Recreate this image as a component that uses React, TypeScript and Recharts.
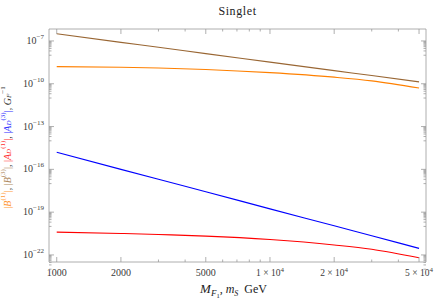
import React from "react";
import { LineChart, Line, XAxis, YAxis } from "recharts";

// ---- data ----
const masses = [1000, 2000, 3000, 5000, 10000, 20000, 30000, 50000];
const b3Values = [3.2e-7, 8e-8, 3.6e-8, 1.3e-8, 3.3e-9, 8.3e-10, 3.8e-10, 1.35e-10]; // brown
const b1Values = [1.6e-9, 1.45e-9, 1.26e-9, 1.0e-9, 6e-10, 2.9e-10, 1.6e-10, 5e-11]; // orange
const ad3Values = [1.6e-15, 1.0e-16, 2.0e-17, 2.7e-18, 1.7e-19, 1.1e-20, 2.2e-21, 2.9e-22]; // blue
const ad1Values = [4e-21, 3.2e-21, 2.7e-21, 2.1e-21, 1.2e-21, 5e-22, 2.5e-22, 6.3e-23]; // red

const xMajorTicks = [1000, 2000, 5000, 10000, 20000, 50000];
const xMajorLabels = ["1000", "2000", "5000", "1 × 10|4", "2 × 10|4", "5 × 10|4"];
const xMinorTicks = [3000, 4000, 6000, 7000, 8000, 9000, 30000, 40000];
const yMajorExponents = [-22, -19, -16, -13, -10, -7];

const data = masses.map((m, i) => ({
  m,
  b3: b3Values[i],
  b1: b1Values[i],
  ad3: ad3Values[i],
  ad1: ad1Values[i],
}));

const yMajorTicks = yMajorExponents.map((n) => Number(`1e${n}`));
const yMinorTicks: number[] = [];
yMajorExponents.forEach((n) => {
  for (let k = 1; k <= 9; k++) yMinorTicks.push(Number(`${k}e${n - 1}`));
});
const yTicks = [...yMajorTicks, ...yMinorTicks].sort((a, b) => a - b);
const xTicks = [...xMajorTicks, ...xMinorTicks].sort((a, b) => a - b);

const FRAME = "#9a9a9a";
const TEXT = "#3a3a3a";
const FONT = "Liberation Serif";

const isMajorX = (v: number) => xMajorTicks.includes(v);
const isMajorY = (v: number) => yMajorTicks.some((t) => Math.abs(t - v) / t < 1e-9);

const BottomTick = (props: any) => {
  const { x, y, payload } = props;
  const v = payload.value;
  const major = isMajorX(v);
  const idx = xMajorTicks.indexOf(v);
  let label: React.ReactNode = null;
  if (major) {
    const s = xMajorLabels[idx];
    if (s.includes("|")) {
      const [base, sup] = s.split("|");
      label = (
        <text x={x} y={y + 14} textAnchor="middle" fontSize={9.5} fill={TEXT} style={{ fontFamily: FONT }}>
          {base}
          <tspan fontSize={7} dy={-4}>{sup}</tspan>
        </text>
      );
    } else {
      label = (
        <text x={x} y={y + 14} textAnchor="middle" fontSize={10} fill={TEXT} style={{ fontFamily: FONT }}>
          {s}
        </text>
      );
    }
  }
  return (
    <g>
      <line x1={x} y1={y} x2={x} y2={y - (major ? 5 : 2.5)} stroke={FRAME} strokeWidth={0.8} />
      {label}
    </g>
  );
};

const TopTick = (props: any) => {
  const { x, y, payload } = props;
  const major = isMajorX(payload.value);
  return <line x1={x} y1={y} x2={x} y2={y + (major ? 5 : 2.5)} stroke={FRAME} strokeWidth={0.8} />;
};

const LeftTick = (props: any) => {
  const { x, y, payload } = props;
  const v = payload.value;
  const major = isMajorY(v);
  const exp = Math.round(Math.log10(v));
  return (
    <g>
      <line x1={x} y1={y} x2={x + (major ? 5 : 2.5)} y2={y} stroke={FRAME} strokeWidth={0.8} />
      {major && (
        <text x={x - 5} y={y + 3} textAnchor="end" fontSize={10} fill={TEXT} style={{ fontFamily: FONT }}>
          10
          <tspan fontSize={7} dy={-5}>{`\u2212${Math.abs(exp)}`}</tspan>
        </text>
      )}
    </g>
  );
};

const RightTick = (props: any) => {
  const { x, y, payload } = props;
  const major = isMajorY(payload.value);
  return <line x1={x} y1={y} x2={x - (major ? 5 : 2.5)} y2={y} stroke={FRAME} strokeWidth={0.8} />;
};

const TitleLabel = (props: any) => {
  const vb = props.viewBox || {};
  return (
    <text x={vb.x + vb.width / 2} y={15} textAnchor="middle" fontSize={12} letterSpacing={0.6} fill="#222" style={{ fontFamily: FONT }}>
      Singlet
    </text>
  );
};

const XTitle = (props: any) => {
  const vb = props.viewBox || {};
  const cx = vb.x + vb.width / 2 - 4;
  return (
    <text x={cx} y={293} textAnchor="middle" fill="#222" style={{ fontFamily: FONT }} fontSize={12}>
      <tspan fontStyle="italic" fontSize={13}>M</tspan>
      <tspan fontStyle="italic" fontSize={9} dy={3}>F</tspan>
      <tspan fontSize={6.5} dy={1.5}>1</tspan>
      <tspan dy={-4.5}>, </tspan>
      <tspan fontStyle="italic">m</tspan>
      <tspan fontStyle="italic" fontSize={8} dy={2.5}>S</tspan>
      <tspan dy={-2.5}>{"\u00a0\u00a0GeV"}</tspan>
    </text>
  );
};

const YTitle = (props: any) => {
  const vb = props.viewBox || {};
  const cx = 7;
  const cy = vb.y + vb.height / 2 + 2;
  const fs = 10;
  const ss = 7;
  const orange = "#ff9a3a";
  const brown = "#b08a60";
  const red = "#ff3030";
  const blue = "#3030ff";
  const gray = "#333";
  return (
    <text
      x={cx}
      y={cy}
      transform={`rotate(-90, ${cx}, ${cy})`}
      textAnchor="middle"
      dominantBaseline="central"
      style={{ fontFamily: FONT }}
      fontSize={fs}
    >
      <tspan fill={orange}>|</tspan>
      <tspan fill={orange} fontStyle="italic">B</tspan>
      <tspan fill={orange} fontSize={ss} dy={-4}>(1)</tspan>
      <tspan fill={orange} dy={4}>|</tspan>
      <tspan fill={gray}>, </tspan>
      <tspan fill={brown}>|</tspan>
      <tspan fill={brown} fontStyle="italic">B</tspan>
      <tspan fill={brown} fontSize={ss} dy={-4}>(3)</tspan>
      <tspan fill={brown} dy={4}>|</tspan>
      <tspan fill={gray}>, </tspan>
      <tspan fill={red}>|</tspan>
      <tspan fill={red} fontStyle="italic">A</tspan>
      <tspan fill={red} fontStyle="italic" fontSize={ss} dy={2}>D</tspan>
      <tspan fill={red} fontSize={ss} dy={-6}>(1)</tspan>
      <tspan fill={red} dy={4}>|</tspan>
      <tspan fill={gray}>, </tspan>
      <tspan fill={blue}>|</tspan>
      <tspan fill={blue} fontStyle="italic">A</tspan>
      <tspan fill={blue} fontStyle="italic" fontSize={ss} dy={2}>D</tspan>
      <tspan fill={blue} fontSize={ss} dy={-6}>(3)</tspan>
      <tspan fill={blue} dy={4}>|</tspan>
      <tspan fill={gray}>, </tspan>
      <tspan fill={gray} fontStyle="italic">G</tspan>
      <tspan fill={gray} fontStyle="italic" fontSize={ss} dy={2}>F</tspan>
      <tspan fill={gray} fontSize={ss} dy={-6}>{"\u22121"}</tspan>
    </text>
  );
};

export default function App() {
  return (
    <div style={{ position: "absolute", left: 0, top: 0, width: 436, height: 301, background: "#fff" }}>
      <LineChart width={436} height={301} data={data} margin={{ top: 0, right: 0, bottom: 0, left: 0 }}>
        <XAxis
          xAxisId="bottom"
          dataKey="m"
          type="number"
          scale="log"
          domain={[920, 53900]}
          allowDataOverflow
          ticks={xTicks}
          interval={0}
          height={39}
          tickSize={0}
          tickMargin={0}
          tickLine={false}
          axisLine={{ stroke: FRAME, strokeWidth: 0.8 }}
          tick={<BottomTick />}
          label={<XTitle />}
        />
        <XAxis
          xAxisId="top"
          orientation="top"
          dataKey="m"
          type="number"
          scale="log"
          domain={[920, 53900]}
          allowDataOverflow
          ticks={xTicks}
          interval={0}
          height={29}
          tickSize={0}
          tickMargin={0}
          tickLine={false}
          axisLine={{ stroke: FRAME, strokeWidth: 0.8 }}
          tick={<TopTick />}
          label={<TitleLabel />}
        />
        <YAxis
          yAxisId="left"
          type="number"
          scale="log"
          domain={[3.2e-23, 6.9e-7]}
          allowDataOverflow
          ticks={yTicks}
          interval={0}
          width={49}
          tickSize={0}
          tickMargin={0}
          tickLine={false}
          axisLine={{ stroke: FRAME, strokeWidth: 0.8 }}
          tick={<LeftTick />}
          label={<YTitle />}
        />
        <YAxis
          yAxisId="right"
          orientation="right"
          type="number"
          scale="log"
          domain={[3.2e-23, 6.9e-7]}
          allowDataOverflow
          ticks={yTicks}
          interval={0}
          width={10}
          tickSize={0}
          tickMargin={0}
          tickLine={false}
          axisLine={{ stroke: FRAME, strokeWidth: 0.8 }}
          tick={<RightTick />}
        />
        <Line xAxisId="bottom" yAxisId="left" type="monotone" dataKey="b3" stroke="#996633" strokeWidth={1.1} dot={false} isAnimationActive={false} />
        <Line xAxisId="bottom" yAxisId="left" type="monotone" dataKey="b1" stroke="#ff8000" strokeWidth={1.1} dot={false} isAnimationActive={false} />
        <Line xAxisId="bottom" yAxisId="left" type="monotone" dataKey="ad3" stroke="#0000ff" strokeWidth={1.1} dot={false} isAnimationActive={false} />
        <Line xAxisId="bottom" yAxisId="left" type="monotone" dataKey="ad1" stroke="#ff0000" strokeWidth={1.1} dot={false} isAnimationActive={false} />
      </LineChart>
    </div>
  );
}
